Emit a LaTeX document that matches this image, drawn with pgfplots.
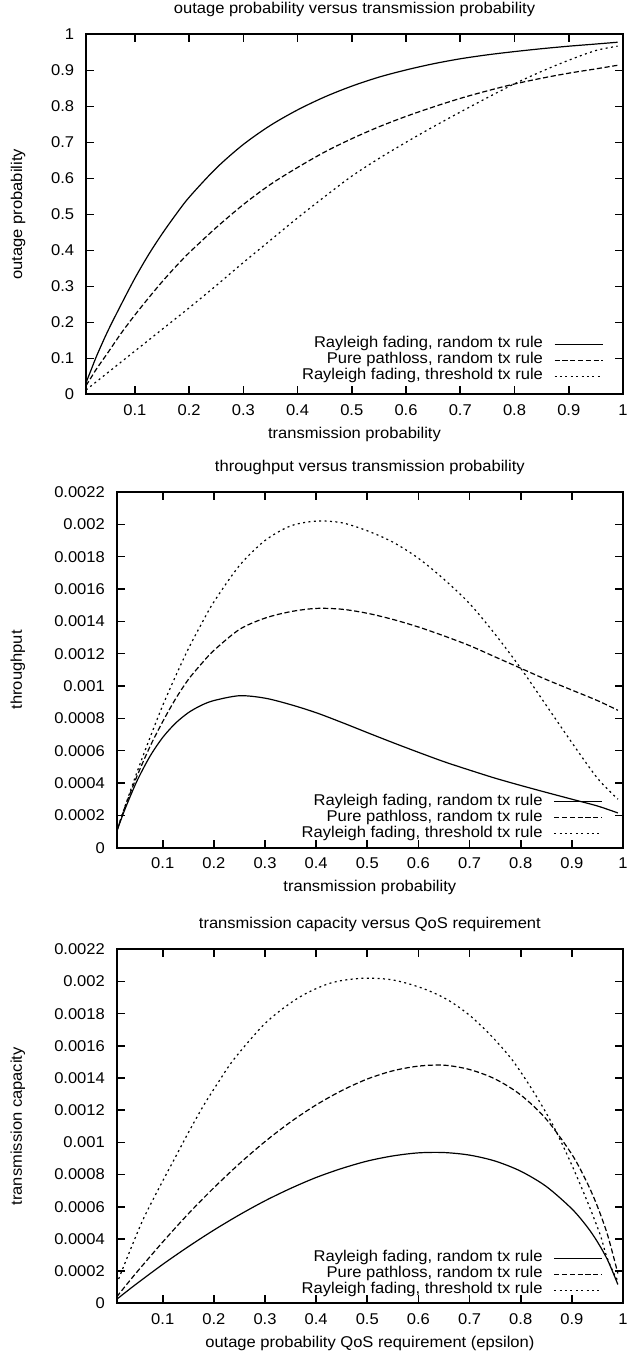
\documentclass[border=0pt]{standalone}
\usepackage{fontspec}
\setmainfont{Liberation Sans}[FakeStretch=1.06]
\usepackage{pgfplots}
\usepackage{pgfplotstable}
\pgfplotsset{compat=1.18}

% p = transmission probability; q* = outage probability; t* = throughput
\pgfplotstableread{
p     qR     qP     qT     tR        tP        tT
0.01  0.032  0.024  0.012  0.000100  0.000100  0.000100
0.02  0.070  0.048  0.024  0.000187  0.000195  0.000198
0.03  0.108  0.072  0.036  0.000268  0.000285  0.000290
0.05  0.175  0.115  0.060  0.000415  0.000445  0.000470
0.075 0.250  0.170  0.090  0.000565  0.000625  0.000680
0.1   0.322  0.220  0.120  0.000682  0.000780  0.000880
0.125 0.387  0.267  0.150  0.000770  0.000920  0.001060
0.15  0.445  0.312  0.180  0.000835  0.001040  0.001230
0.175 0.498  0.354  0.210  0.000880  0.001135  0.001380
0.2   0.547  0.393  0.240  0.000910  0.001220  0.001520
0.25  0.628  0.463  0.302  0.000940  0.001350  0.001745
0.3   0.694  0.527  0.366  0.000925  0.001420  0.001900
0.35  0.747  0.583  0.428  0.000885  0.001460  0.001990
0.4   0.790  0.630  0.490  0.000835  0.001480  0.002020
0.45  0.826  0.673  0.549  0.000775  0.001475  0.002010
0.5   0.856  0.710  0.606  0.000712  0.001450  0.001960
0.55  0.881  0.743  0.655  0.000650  0.001412  0.001890
0.6   0.901  0.772  0.700  0.000590  0.001365  0.001790
0.65  0.918  0.798  0.743  0.000532  0.001310  0.001660
0.7   0.932  0.822  0.784  0.000480  0.001250  0.001510
0.75  0.943  0.843  0.824  0.000430  0.001180  0.001320
0.8   0.952  0.862  0.8625 0.000385  0.001110  0.001110
0.85  0.960  0.878  0.897  0.000342  0.001040  0.000880
0.9   0.967  0.892  0.928  0.000300  0.000975  0.000650
0.95  0.973  0.904  0.955  0.000258  0.000910  0.000430
0.99  0.978  0.914  0.967  0.000215  0.000850  0.000300
}\txprob

% e = outage requirement, c = transmission capacity
\pgfplotstableread{
e     c
0.01  0.000025
0.03  0.000075
0.05  0.000124
0.1   0.000242
0.15  0.000352
0.2   0.000455
0.25  0.000550
0.3   0.000637
0.35  0.000714
0.4   0.000782
0.45  0.000838
0.5   0.000884
0.55  0.000916
0.6   0.000935
0.65  0.000937
0.7   0.000921
0.75  0.000884
0.8   0.000821
0.85  0.000726
0.9   0.000587
0.93  0.000475
0.95  0.000382
0.97  0.000268
0.99  0.000117
}\capR

\pgfplotstableread{
e     c
0.01  0.000040
0.03  0.000119
0.05  0.000196
0.1   0.000381
0.15  0.000556
0.2   0.000718
0.25  0.000868
0.3   0.001005
0.35  0.001127
0.4   0.001233
0.45  0.001322
0.5   0.001394
0.55  0.001445
0.6   0.001474
0.65  0.001480
0.7   0.001453
0.75  0.001394
0.8   0.001295
0.85  0.001144
0.9   0.000926
0.93  0.000748
0.95  0.000602
0.97  0.000423
0.99  0.000185
}\capP

\pgfplotstableread{
e     c
0.01  0.00012
0.03  0.00028
0.06  0.00051
0.09  0.00070
0.12  0.00088
0.15  0.00106
0.18  0.00123
0.21  0.00138
0.24  0.00152
0.302 0.001745
0.366 0.00190
0.428 0.00199
0.49  0.00202
0.549 0.00201
0.606 0.00196
0.655 0.00189
0.70  0.00179
0.743 0.00166
0.784 0.00151
0.824 0.00132
0.8625 0.00111
0.897 0.00088
0.928 0.00065
0.955 0.00043
0.967 0.00030
0.98  0.00020
0.99  0.00014
}\capT

\pgfplotsset{
  gp/.style={
    scale only axis,
    xmin=0.01, xmax=1,
    scaled x ticks=false, scaled y ticks=false,
    font=\fontsize{7.8}{9.4}\selectfont,
    tick label style={font=\fontsize{7.8}{9.4}\selectfont},
    axis line style={line width=0.9pt},
    tick style={line width=0.8pt, black},
    major tick length=4pt,
    tick align=inside,
    xtick={0.1,0.2,0.3,0.4,0.5,0.6,0.7,0.8,0.9,1},
    xticklabels={0.1,0.2,0.3,0.4,0.5,0.6,0.7,0.8,0.9,1},
    xticklabel style={yshift=-1.5pt},
    yticklabel style={xshift=-2.4pt},
    title style={at={(axis description cs:0.5,1)}, anchor=center, yshift=6.5pt},
    xlabel style={at={(axis description cs:0.5,0)}, anchor=center, yshift=-20pt},
    legend cell align=right,
    legend plot pos=right,
    legend image code/.code={\draw[##1] (0pt,0pt) -- (24pt,0pt);},
    legend style={draw=none, fill=none, anchor=south east, inner sep=0pt,
      outer sep=0pt, column sep=5.5pt, row sep=0pt,
      nodes={inner sep=0pt, text height=5.8pt, text depth=2.2pt}},
    every axis plot/.append style={line width=0.6pt, black, smooth, tension=0.5},
  },
  capy/.style={
    ymin=0, ymax=0.0022,
    ytick={0,0.0002,0.0004,0.0006,0.0008,0.001,0.0012,0.0014,0.0016,0.0018,0.002,0.0022},
    yticklabels={0,0.0002,0.0004,0.0006,0.0008,0.001,0.0012,0.0014,0.0016,0.0018,0.002,0.0022},
  },
  sR/.style={solid},
  sP/.style={dash pattern=on 2.6pt off 1.3pt},
  sT/.style={dash pattern=on 1pt off 1.7pt},
}

\begin{document}
\begin{tikzpicture}
\path[use as bounding box] (0pt,0pt) rectangle (314.5pt,-680.5pt);

\begin{axis}[gp,
  at={(43pt,-17.15pt)}, anchor=north west, width=268.5pt, height=180pt,
  ymin=0, ymax=1,
  ytick={0,0.1,0.2,0.3,0.4,0.5,0.6,0.7,0.8,0.9,1},
  yticklabels={0,0.1,0.2,0.3,0.4,0.5,0.6,0.7,0.8,0.9,1},
  title={outage probability versus transmission probability},
  xlabel={transmission probability},
  ylabel={outage probability},
  ylabel style={at={(axis description cs:-0.1266,0.5)}, anchor=center},
  legend style={at={(axis description cs:0.963,0.028)}},
]
  \addplot[sR] table[x=p, y=qR] {\txprob};
  \addlegendentry{Rayleigh fading, random tx rule}
  \addplot[sP] table[x=p, y=qP] {\txprob};
  \addlegendentry{Pure pathloss, random tx rule}
  \addplot[sT] table[x=p, y=qT] {\txprob};
  \addlegendentry{Rayleigh fading, threshold tx rule}
\end{axis}

\begin{axis}[gp, capy,
  at={(58.35pt,-246pt)}, anchor=north west, width=253.15pt, height=177.85pt,
  title={throughput versus transmission probability},
  xlabel={transmission probability},
  ylabel={throughput},
  ylabel style={at={(axis description cs:-0.195,0.5)}, anchor=center},
  legend style={at={(axis description cs:0.960,0.017)}},
]
  \addplot[sR] table[x=p, y=tR] {\txprob};
  \addlegendentry{Rayleigh fading, random tx rule}
  \addplot[sP] table[x=p, y=tP] {\txprob};
  \addlegendentry{Pure pathloss, random tx rule}
  \addplot[sT] table[x=p, y=tT] {\txprob};
  \addlegendentry{Rayleigh fading, threshold tx rule}
\end{axis}

\begin{axis}[gp, capy,
  at={(58.35pt,-474.65pt)}, anchor=north west, width=253.15pt, height=177pt,
  title={transmission capacity versus QoS requirement},
  xlabel={outage probability QoS requirement (epsilon)},
  ylabel={transmission capacity},
  ylabel style={at={(axis description cs:-0.195,0.5)}, anchor=center},
  legend style={at={(axis description cs:0.960,0.014)}},
]
  \addplot[sR] table[x=e, y=c] {\capR};
  \addlegendentry{Rayleigh fading, random tx rule}
  \addplot[sP] table[x=e, y=c] {\capP};
  \addlegendentry{Pure pathloss, random tx rule}
  \addplot[sT] table[x=e, y=c] {\capT};
  \addlegendentry{Rayleigh fading, threshold tx rule}
\end{axis}
\end{tikzpicture}
\end{document}
